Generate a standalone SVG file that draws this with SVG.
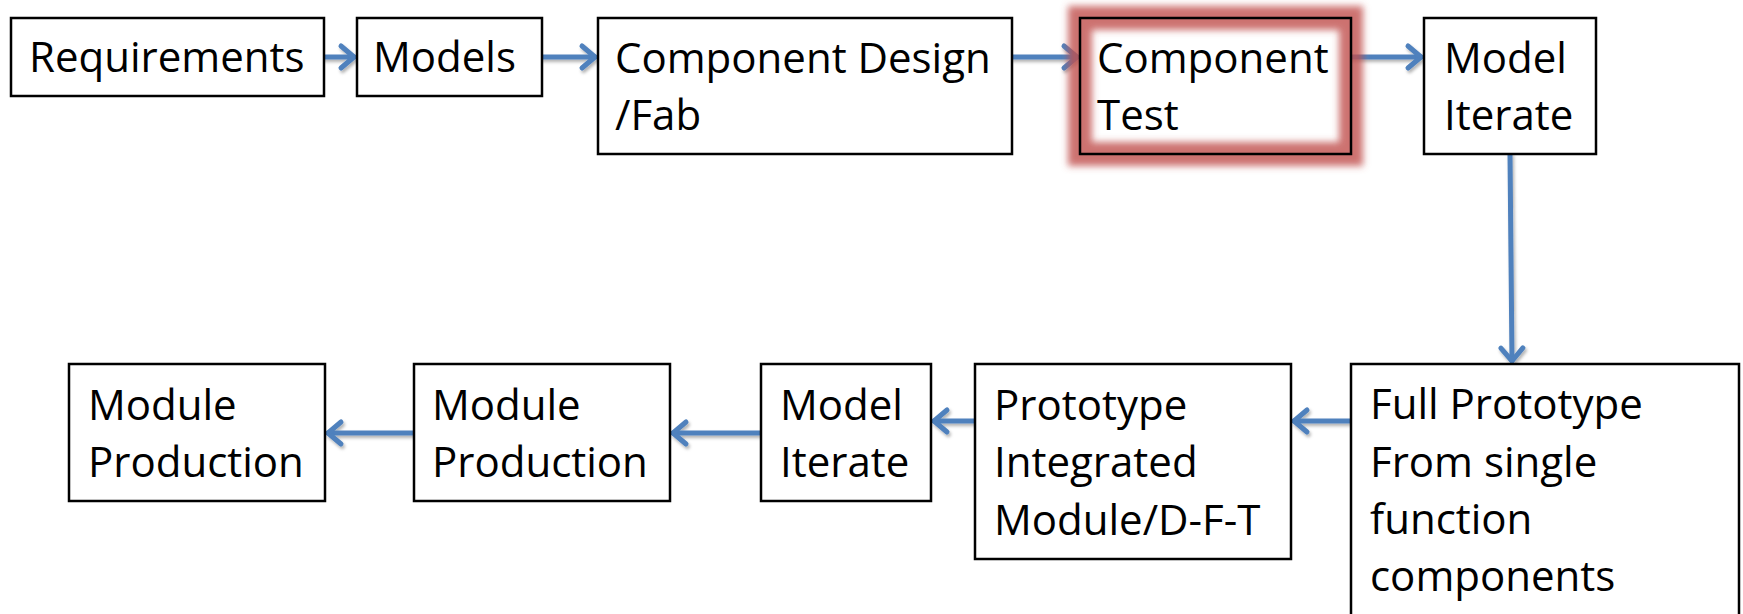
<svg xmlns="http://www.w3.org/2000/svg" width="1743" height="614" viewBox="0 0 1743 614">
  <style>
    .box { fill: #ffffff; stroke: #000000; stroke-width: 2.5; }
    .lbl { font-family: "Open Sans", "Liberation Sans", sans-serif; font-size: 42px; fill: #000000; }
    .conn { fill: none; stroke: #4f81bd; stroke-width: 5; stroke-linecap: round; }
  </style>
  <defs>
    <marker id="head" markerUnits="userSpaceOnUse" markerWidth="40" markerHeight="40" viewBox="-20 -20 40 40" refX="0" refY="0" orient="auto" overflow="visible">
      <path d="M-13,-11 L0,0 L-13,11" fill="none" stroke="#4f81bd" stroke-width="5" stroke-linecap="round" stroke-linejoin="round"/>
    </marker>
    <filter id="shadow" x="-20%" y="-20%" width="140%" height="140%">
      <feDropShadow dx="1.5" dy="2.5" stdDeviation="1.5" flood-color="#000000" flood-opacity="0.3"/>
    </filter>
    <filter id="glow" x="-20%" y="-30%" width="140%" height="160%">
      <feGaussianBlur stdDeviation="3.5"/>
    </filter>
  </defs>

  <!-- connectors -->
  <g id="connectors" filter="url(#shadow)">
    <path class="conn" d="M324,57 L354,57" marker-end="url(#head)"/>
    <path class="conn" d="M542,57 L595,57" marker-end="url(#head)"/>
    <path class="conn" d="M1012,57 L1077,57" marker-end="url(#head)"/>
    <path class="conn" d="M1351,57 L1421,57" marker-end="url(#head)"/>
    <path class="conn" d="M1510,154 L1512,361" marker-end="url(#head)"/>
    <path class="conn" d="M1351,421 L1294,421" marker-end="url(#head)"/>
    <path class="conn" d="M975,421 L934,421" marker-end="url(#head)"/>
    <path class="conn" d="M761,433 L673,433" marker-end="url(#head)"/>
    <path class="conn" d="M414,433 L328,433" marker-end="url(#head)"/>
  </g>

  <!-- top row -->
  <g id="requirements">
    <rect class="box" x="11" y="18" width="313" height="78"/>
    <text class="lbl" x="29" y="72">Requirements</text>
  </g>
  <g id="models">
    <rect class="box" x="357" y="18" width="185" height="78"/>
    <text class="lbl" x="373" y="72">Models</text>
  </g>
  <g id="component-design">
    <rect class="box" x="598" y="18" width="414" height="136"/>
    <text class="lbl" x="615" y="73">Component Design</text>
    <text class="lbl" x="615" y="130">/Fab</text>
  </g>
  <g id="component-test">
    <rect x="1080" y="18" width="271" height="136" fill="#ffffff"/>
    <rect x="1080" y="18" width="271" height="136" fill="none" stroke="#c0504d" stroke-width="24" stroke-opacity="0.8" filter="url(#glow)"/>
    <rect x="1080" y="18" width="271" height="136" fill="none" stroke="#000000" stroke-width="2.5"/>
    <text class="lbl" x="1097" y="73">Component</text>
    <text class="lbl" x="1097" y="130">Test</text>
  </g>
  <g id="model-iterate-top">
    <rect class="box" x="1424" y="18" width="172" height="136"/>
    <text class="lbl" x="1444" y="73">Model</text>
    <text class="lbl" x="1444" y="130">Iterate</text>
  </g>

  <!-- bottom row -->
  <g id="full-prototype">
    <rect class="box" x="1351" y="364" width="388" height="270"/>
    <text class="lbl" x="1370" y="419">Full Prototype</text>
    <text class="lbl" x="1370" y="477">From single</text>
    <text class="lbl" x="1370" y="534">function</text>
    <text class="lbl" x="1370" y="591">components</text>
  </g>
  <g id="prototype-integrated">
    <rect class="box" x="975" y="364" width="316" height="195"/>
    <text class="lbl" x="994" y="420">Prototype</text>
    <text class="lbl" x="994" y="477">Integrated</text>
    <text class="lbl" x="994" y="535">Module/D-F-T</text>
  </g>
  <g id="model-iterate-bottom">
    <rect class="box" x="761" y="364" width="170" height="137"/>
    <text class="lbl" x="780" y="420">Model</text>
    <text class="lbl" x="780" y="477">Iterate</text>
  </g>
  <g id="module-production-2">
    <rect class="box" x="414" y="364" width="256" height="137"/>
    <text class="lbl" x="432" y="420">Module</text>
    <text class="lbl" x="432" y="477">Production</text>
  </g>
  <g id="module-production-1">
    <rect class="box" x="69" y="364" width="256" height="137"/>
    <text class="lbl" x="88" y="420">Module</text>
    <text class="lbl" x="88" y="477">Production</text>
  </g>
</svg>
